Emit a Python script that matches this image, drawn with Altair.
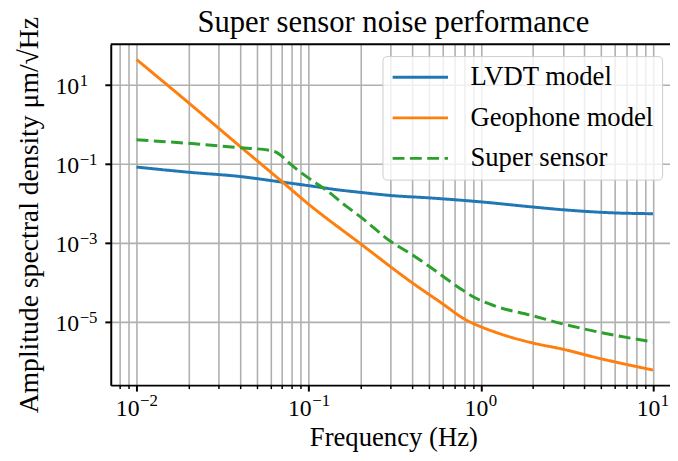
import altair as alt
import pandas as pd

# ---- data ----
series_names = ["LVDT model", "Geophone model", "Super sensor"]
series_colors = ["#1f77b4", "#ff7f0e", "#2ca02c"]

freq_lvdt = [0.01, 0.02, 0.04, 0.07, 0.1, 0.15, 0.2, 0.3, 0.5, 1.0, 2.0, 3.0, 4.0, 6.0, 10.0]
asd_lvdt = [0.0813, 0.0603, 0.0468, 0.0339, 0.0275, 0.0214, 0.0186, 0.0155, 0.0135,
            0.0107, 0.00794, 0.00676, 0.00617, 0.00562, 0.00537]

freq_geo = [0.01, 0.02, 0.04, 0.07, 0.1, 0.2, 0.4, 0.6, 0.8, 1.0, 1.2, 1.43, 2.0, 3.0, 4.9, 10.0]
asd_geo = [42.7, 3.47, 0.269, 0.0347, 0.0093, 9.33e-4, 9.55e-5, 2.82e-5, 1.17e-5, 7.41e-6,
           5.50e-6, 4.27e-6, 2.88e-6, 2.0e-6, 1.17e-6, 5.96e-7]

freq_super = [0.01, 0.02, 0.04, 0.06, 0.065, 0.07, 0.08, 0.1, 0.127, 0.165, 0.2, 0.3, 0.4,
              0.5, 0.77, 0.92, 1.2, 2.0, 3.0, 4.9, 10.0]
asd_super = [0.398, 0.324, 0.251, 0.214, 0.191, 0.151, 0.0891, 0.0427, 0.0209, 0.00832,
             0.00447, 1.06e-3, 4.90e-4, 2.51e-4, 6.61e-5, 4.07e-5, 2.51e-5, 1.41e-5,
             8.71e-6, 5.37e-6, 3.05e-6]

x_tick_values = [0.008, 0.009,
                 0.01, 0.02, 0.03, 0.04, 0.05, 0.06, 0.07, 0.08, 0.09,
                 0.1, 0.2, 0.3, 0.4, 0.5, 0.6, 0.7, 0.8, 0.9,
                 1, 2, 3, 4, 5, 6, 7, 8, 9, 10]
x_major = [0.01, 0.1, 1, 10]
x_major_exp = ["−2", "−1", "0", "1"]
y_major = [10, 0.1, 0.001, 1e-5]
y_major_exp = ["1", "−1", "−3", "−5"]

title_text = "Super sensor noise performance"
x_title = "Frequency (Hz)"
y_title = "Amplitude spectral density μm/√Hz"

x_domain = [10 ** -2.15, 10 ** 1.099]
y_domain = [10 ** -6.6075, 10 ** 2.0175]

FONT = "Liberation Serif"
W, H = 566, 345

rows = []
for name, fs, vs in [(series_names[0], freq_lvdt, asd_lvdt),
                     (series_names[1], freq_geo, asd_geo),
                     (series_names[2], freq_super, asd_super)]:
    for f, v in zip(fs, vs):
        rows.append({"series": name, "freq": f, "asd": v})
df = pd.DataFrame(rows)
xlab = pd.DataFrame({"freq": x_major, "exp": x_major_exp})
ylab = pd.DataFrame({"asd": y_major, "exp": y_major_exp})

LOGE = "log(datum.value)/LN10"
EXP = f"round({LOGE})"
IS_MAJOR = f"abs({LOGE} - {EXP}) < 0.001"

xscale = alt.Scale(type="log", domain=x_domain, nice=False)
yscale = alt.Scale(type="log", domain=y_domain, nice=False)

legend = alt.Legend(
    orient="none", legendX=275, legendY=12, title=None,
    symbolType="M-1,0H4", symbolSize=502, symbolStrokeWidth=3,
    labelFont=FONT, labelFontSize=27, labelOffset=54, labelLimit=500,
    rowPadding=13, padding=8,
    fillColor="rgba(255,255,255,0.8)", strokeColor="#cccccc", cornerRadius=4,
)

lines = alt.Chart(df).mark_line(strokeWidth=3, interpolate="monotone", clip=True).encode(
    x=alt.X("freq:Q", scale=xscale,
            axis=alt.Axis(
                values=x_tick_values, labels=False,
                tickColor="black",
                tickSize={"condition": {"test": IS_MAJOR, "value": 6}, "value": 3.5},
                tickWidth={"condition": {"test": IS_MAJOR, "value": 2}, "value": 1.5},
                grid=True, gridColor="#b0b0b0", gridWidth=1.6,
                domainColor="black", domainWidth=2,
                title=x_title, titleFont=FONT, titleFontSize=27,
                titleFontWeight="normal", titleColor="black",
                titleX=286, titleY=53, titleAlign="center", titleBaseline="middle",
            )),
    y=alt.Y("asd:Q", scale=yscale,
            axis=alt.Axis(
                values=y_major, labels=False,
                tickColor="black", tickSize=6, tickWidth=2,
                grid=True, gridColor="#b0b0b0", gridWidth=1.6,
                domainColor="black", domainWidth=2,
                title=y_title, titleFont=FONT, titleFontSize=28,
                titleFontWeight="normal", titleColor="black",
                titleX=-82, titleY=H / 2, titleAngle=-90,
                titleAlign="center", titleBaseline="middle",
            )),
    color=alt.Color("series:N",
                    scale=alt.Scale(domain=series_names, range=series_colors),
                    legend=legend),
    strokeDash=alt.StrokeDash("series:N",
                              scale=alt.Scale(domain=series_names,
                                              range=[[1, 0], [1, 0], [12, 5.5]]),
                              legend=legend),
)

# x tick labels "10" + superscript exponent
def x_labels(test, d):
    base = alt.Chart(xlab).transform_filter(test)
    ten = base.mark_text(align="right", baseline="alphabetic", font=FONT, fontSize=24,
                         color="black", dx=d).encode(
        x=alt.X("freq:Q", scale=xscale), y=alt.value(H + 31), text=alt.value("10"))
    sup = base.mark_text(align="left", baseline="alphabetic", font=FONT, fontSize=17,
                         color="black", dx=d + 0.5).encode(
        x=alt.X("freq:Q", scale=xscale), y=alt.value(H + 21), text="exp:N")
    return [ten, sup]

xl = x_labels("datum.freq < 1", 3) + x_labels("datum.freq >= 1", 7.5)

y_ten = alt.Chart(ylab).mark_text(align="right", baseline="alphabetic", font=FONT,
                                  fontSize=24, color="black", dy=10).encode(
    y=alt.Y("asd:Q", scale=yscale), x=alt.value(-32), text=alt.value("10"))
y_sup = alt.Chart(ylab).mark_text(align="left", baseline="alphabetic", font=FONT,
                                  fontSize=17, color="black", dy=1.5).encode(
    y=alt.Y("asd:Q", scale=yscale), x=alt.value(-31.5), text="exp:N")

top_spine = alt.Chart(pd.DataFrame({"k": [0]})).mark_rule(color="black", strokeWidth=2).encode(
    x=alt.value(0), x2=alt.value(W), y=alt.value(0)
)

title_mark = alt.Chart(pd.DataFrame({"t": [title_text]})).mark_text(
    align="center", baseline="alphabetic", font=FONT, fontSize=31, color="black"
).encode(x=alt.value(W / 2 + 3), y=alt.value(-12), text="t:N")

chart = alt.layer(lines, top_spine, *xl, y_ten, y_sup, title_mark).properties(
    width=W, height=H,
    padding={"left": 104, "top": 34, "right": 0, "bottom": 66},
    autosize=alt.AutoSizeParams(type="none"),
).configure_view(stroke=None)

chart.save("out.html", embed_options={"renderer": "svg", "actions": False})
